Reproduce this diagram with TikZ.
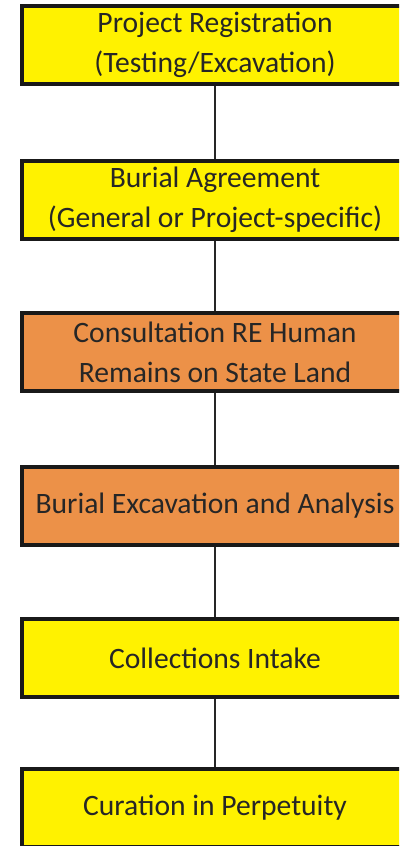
\documentclass[tikz,border=0pt]{standalone}
\usepackage{fontspec}
\setmainfont{Carlito}
\definecolor{regyellow}{RGB}{255,242,0}
\definecolor{burialorange}{RGB}{236,145,72}
\tikzset{
  stage/.style={draw=black!90, line width=4pt, minimum width=386pt, minimum height=78pt,
    inner sep=0pt, align=center, text=black!85, font=\fontsize{29.6}{40}\selectfont},
  link/.style={line width=2pt, draw=black!85}
}
\begin{document}
\begin{tikzpicture}[x=1pt,y=1pt]
  \useasboundingbox (0,0) rectangle (399,-846);
  \clip (0,0) rectangle (399,-846);
  \node [stage, fill=regyellow] (reg) at (215,-45) {Project Registration\\(Testing/Excavation)};
  \node [stage, fill=regyellow] (agree) at (215,-200) {Burial Agreement\\(General or Project-specific)};
  \node [stage, fill=burialorange] (consult) at (215,-352) {Consultation RE Human\\Remains on State Land};
  \node [stage, fill=burialorange] (excav) at (215,-506) {Burial Excavation and Analysis};
  \node [stage, fill=regyellow] (intake) at (215,-658) {Collections Intake};
  \node [stage, fill=regyellow] (curation) at (215,-808) {Curation in Perpetuity};
  % links between stages
  \draw [link] (reg) -- (agree);
  \draw [link] (agree) -- (consult);
  \draw [link] (consult) -- (excav);
  \draw [link] (excav) -- (intake);
  \draw [link] (intake) -- (curation);
\end{tikzpicture}
\end{document}
